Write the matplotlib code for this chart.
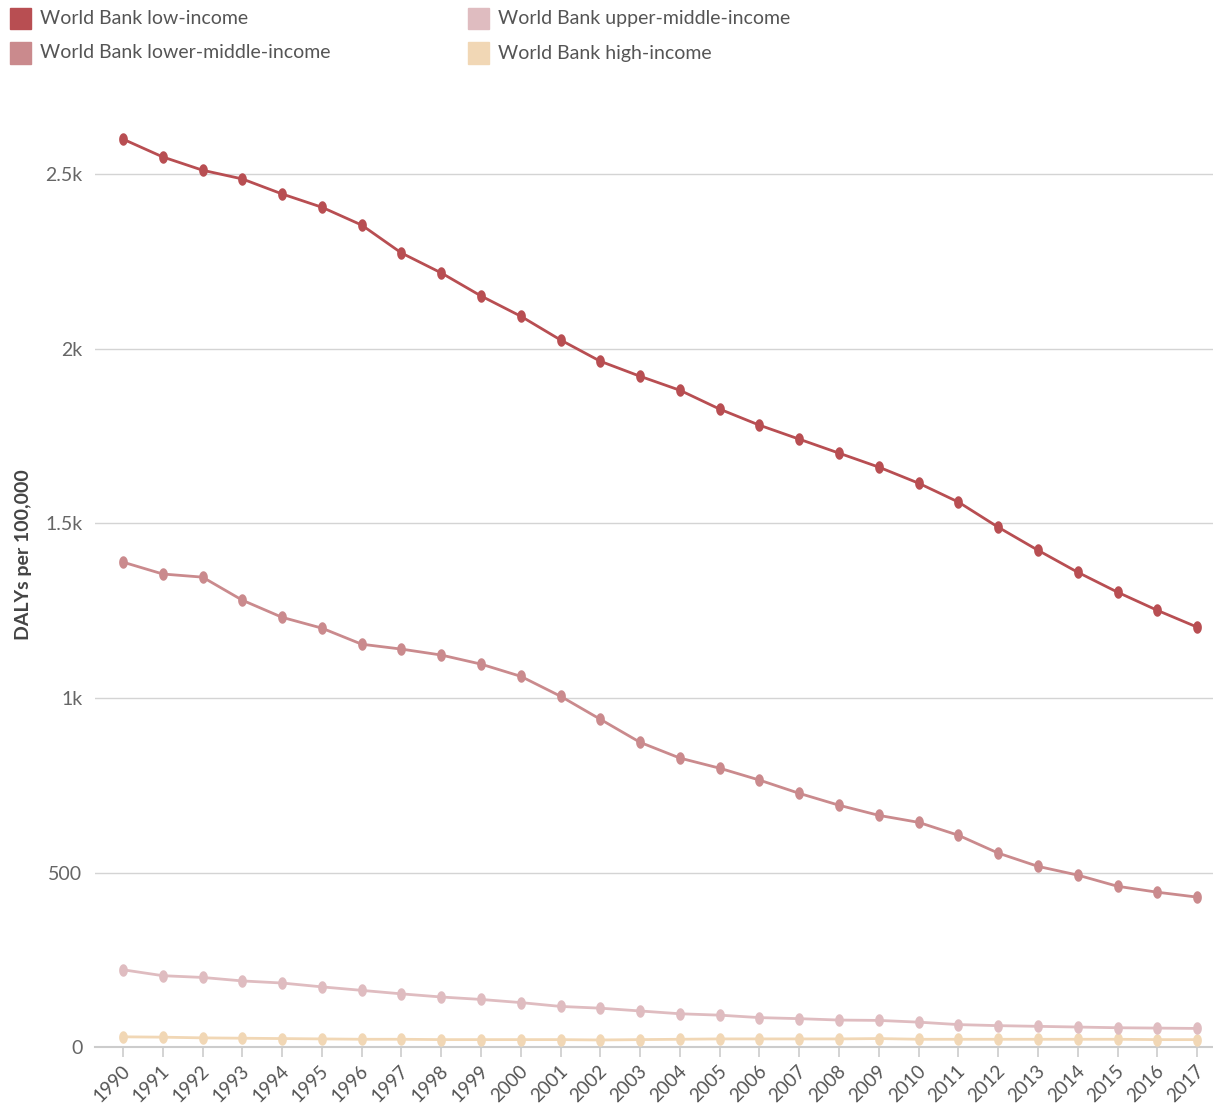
import numpy as np
import matplotlib.pyplot as plt
import matplotlib as mpl
from matplotlib.path import Path
from matplotlib.patches import Rectangle
from matplotlib.transforms import ScaledTranslation

mpl.rcParams['font.family'] = ['Lato', 'DejaVu Sans']

years = list(range(1990, 2018))

low_income = [2600, 2549, 2511, 2486, 2443, 2405, 2354, 2274, 2217, 2151,
              2093, 2025, 1964, 1921, 1881, 1827, 1781, 1741, 1701, 1661,
              1615, 1561, 1489, 1423, 1360, 1303, 1251, 1203]
lower_middle = [1389, 1355, 1346, 1280, 1231, 1200, 1154, 1140, 1123, 1097,
                1062, 1005, 939, 873, 828, 799, 765, 727, 693, 664,
                644, 607, 556, 518, 493, 461, 444, 430]
upper_middle = [222, 205, 200, 190, 184, 173, 163, 153, 144, 137,
                128, 117, 112, 104, 96, 92, 85, 82, 78, 77,
                72, 65, 62, 60, 58, 56, 55, 54]
high_income = [30, 29, 27, 26, 25, 24, 23, 23, 22, 22,
               22, 22, 21, 22, 23, 24, 24, 24, 24, 25,
               23, 23, 23, 23, 23, 23, 22, 22]

series_names = ['World Bank low-income', 'World Bank lower-middle-income',
                'World Bank upper-middle-income', 'World Bank high-income']
series_values = [low_income, lower_middle, upper_middle, high_income]
colors = ['#b84e52', '#ca8a8d', '#dfbcc0', '#f1d7b5']

y_ticks = [0, 500, 1000, 1500, 2000, 2500]
y_ticklabels = ['0', '500', '1k', '1.5k', '2k', '2.5k']

# slightly tall ellipse marker, like the original
t = np.linspace(0, 2 * np.pi, 40)
ellipse = Path(np.column_stack([0.7 * np.cos(t), np.sin(t)]), closed=True)

W, H = 1213, 1104
fig = plt.figure(figsize=(W / 100, H / 100), dpi=100)
ax = fig.add_axes([95 / W, (H - 1047.3) / H, 1 - 95 / W, (1047.3 - 104.2) / H])

# draw lowest series first so the top one sits on top
for name, vals, c in reversed(list(zip(series_names, series_values, colors))):
    ax.plot(years, vals, color=c, lw=2.0, marker=ellipse, markersize=9,
            markeredgewidth=0, solid_capstyle='round', zorder=3)

ax.set_xlim(1990 - 0.704, 2017 + 0.40)
ax.set_ylim(0, 2700)
ax.set_yticks(y_ticks)
ax.set_yticklabels(y_ticklabels)
ax.set_xticks(years)
ax.set_xticklabels([str(y) for y in years], rotation=45, ha='right')
ax.tick_params(axis='x', length=7, width=1.2, color='#cccccc', labelsize=13.5,
               labelcolor='#555555', pad=4)
ax.tick_params(axis='y', length=0, labelsize=14, labelcolor='#666666', pad=9)
shift = ScaledTranslation(10 / 100, 0, fig.dpi_scale_trans)
for lab in ax.get_xticklabels():
    lab.set_transform(lab.get_transform() + shift)
ax.grid(axis='y', color='#d4d4d4', lw=1)
ax.set_axisbelow(True)
for s in ['top', 'right', 'left']:
    ax.spines[s].set_visible(False)
ax.spines['bottom'].set_color('#cccccc')
ax.spines['bottom'].set_linewidth(1.5)

fig.text(23.5 / W, 1 - 555 / H, 'DALYs per 100,000', rotation=90, ha='center',
         va='center', fontsize=14, fontweight='bold', color='#444444')

# legend drawn in figure pixels
legend_pos = [(10, 18.5), (10, 53), (468, 18.5), (468, 53)]
for (px, py), name, c in zip(legend_pos, series_names, colors):
    fig.patches.append(Rectangle((px / W, 1 - (py + 10.5) / H), 21 / W, 21 / H,
                                 transform=fig.transFigure, color=c))
    fig.text((px + 30) / W, 1 - py / H, name, ha='left', va='center',
             fontsize=14, color='#555555')

fig.savefig('out.png', dpi=100)
